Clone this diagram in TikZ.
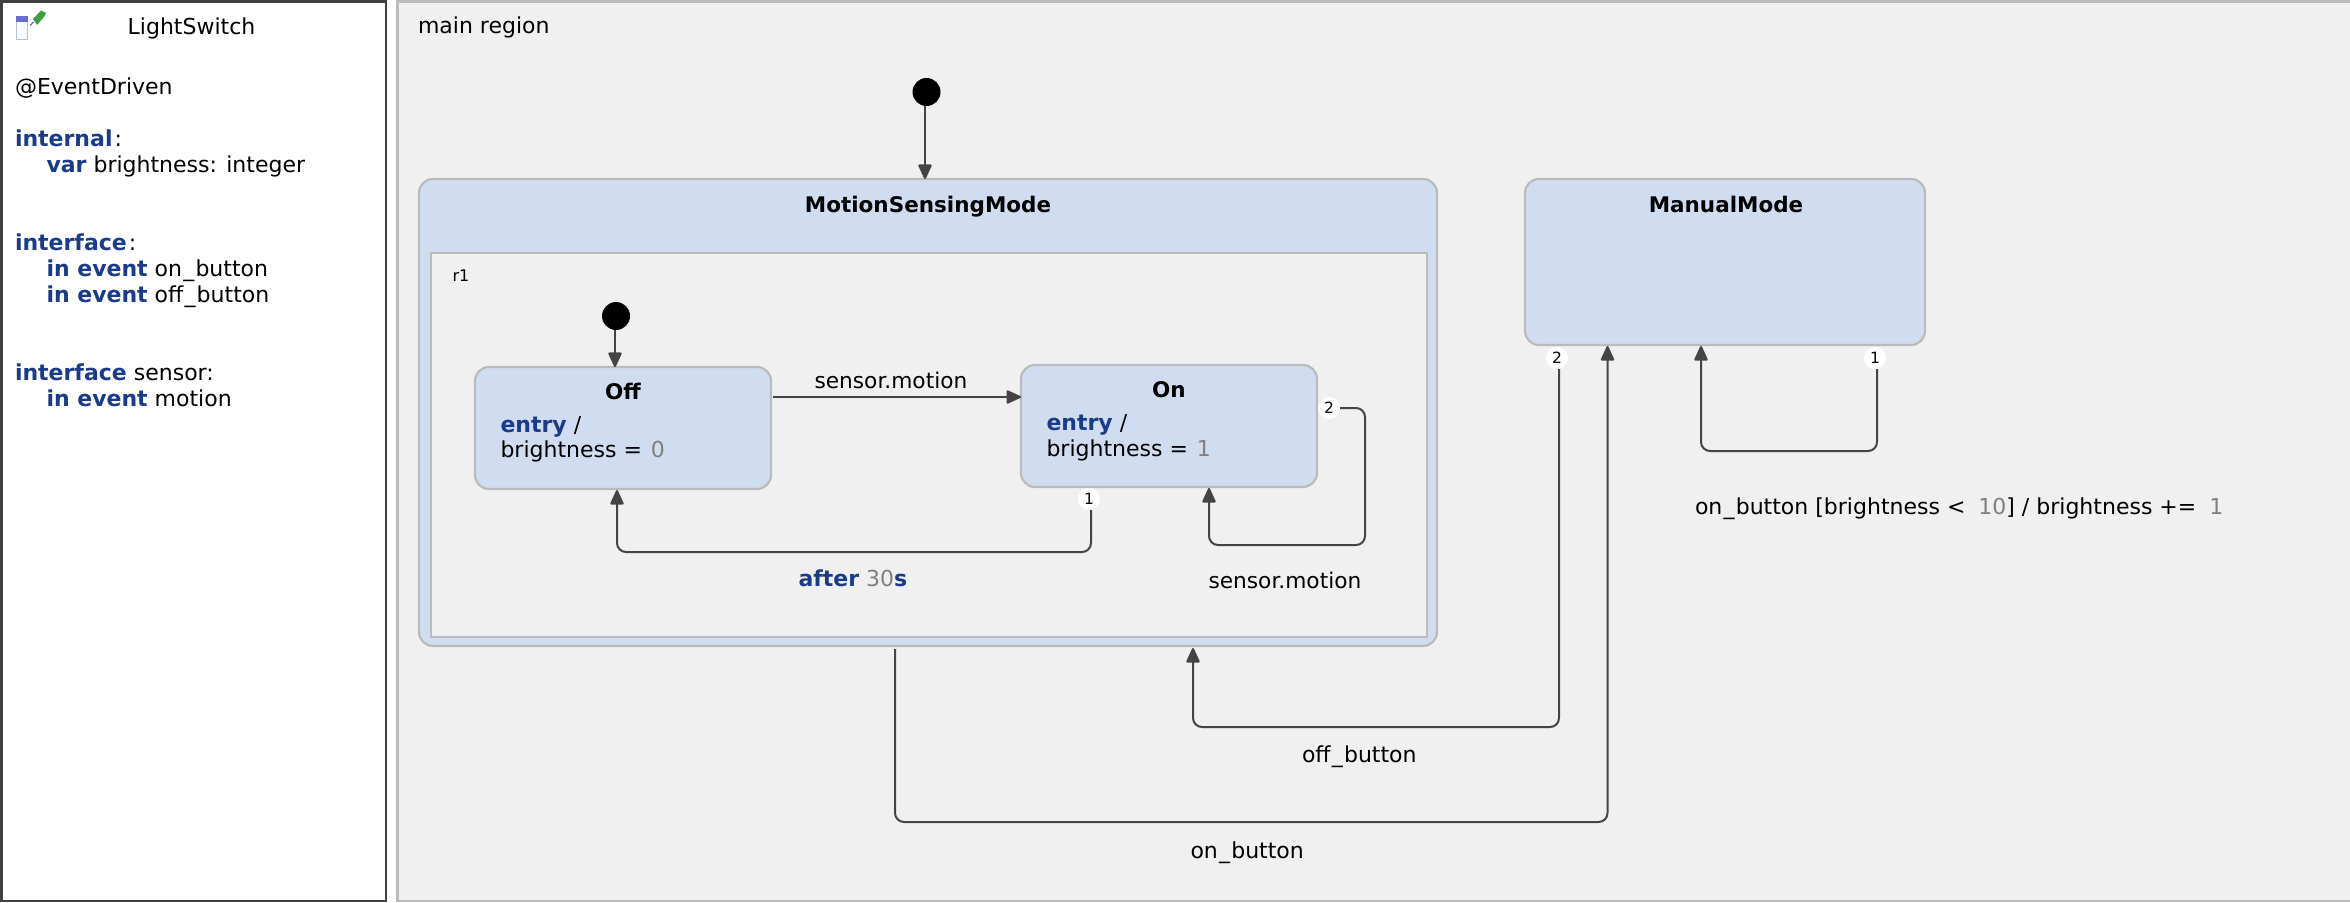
\documentclass[tikz,border=0pt]{standalone}
\usepackage{fontspec}
\setmainfont{DejaVu Sans}
\usetikzlibrary{arrows.meta}
\definecolor{bgc}{HTML}{F0F0F0}
\definecolor{statec}{HTML}{D0DCF0}
\definecolor{edgec}{HTML}{BBBBBB}
\definecolor{connc}{HTML}{444444}
\definecolor{kwc}{HTML}{1A3A8A}
\definecolor{numc}{HTML}{808080}
\newcommand{\kw}[1]{\textbf{\textcolor{kwc}{#1}}}
\newcommand{\nm}[1]{\textcolor{numc}{#1}}
\newcommand{\us}{\kern1.2pt\_\kern1.2pt}
\tikzset{
  txt/.style={inner sep=0pt,outer sep=0pt,anchor=base west,font=\fontsize{22}{26}\selectfont,text=black},
  ttl/.style={inner sep=0pt,outer sep=0pt,anchor=base,font=\fontsize{21.5}{26}\selectfont\bfseries,text=black},
  statebox/.style={draw=edgec,fill=statec,line width=2.2pt,rounded corners=14pt,inner sep=0pt,outer sep=0pt,anchor=north west},
  regionbox/.style={draw=edgec,fill=bgc,line width=2.2pt,inner sep=0pt,outer sep=0pt,anchor=north west},
  initdot/.style={circle,fill=black,draw=none,minimum size=28pt,inner sep=0pt,outer sep=0pt},
  badge/.style={circle,fill=white,draw=none,minimum size=22pt,inner sep=0pt,outer sep=0pt,font=\fontsize{15.5}{17}\selectfont,text=black},
  conn/.style={draw=connc,line width=2pt,rounded corners=9pt,-{Triangle[length=16pt,width=14pt,round=false]}},
}
\begin{document}
\begin{tikzpicture}[x=1pt,y=-1pt]
\useasboundingbox (0,0) rectangle (2350,902);
% panels
\node[draw=black!75,fill=white,line width=2.5pt,inner sep=0pt,outer sep=0pt,anchor=north west,minimum width=384.5pt,minimum height=899.5pt] (panel) at (1.25,1.25) {};
\node[draw=edgec,fill=bgc,line width=2.5pt,inner sep=0pt,outer sep=0pt,anchor=north west,minimum width=1955pt,minimum height=899.5pt] (main) at (397.25,1.25) {};
% icon
\fill[white!85!statec,draw=statec!70!gray,line width=1pt] (16.5,16.5) rectangle (27.5,39.5);
\fill[statec!45!blue!70!gray] (16,16) rectangle (28,22);
\fill[green!50!black!75] (33,19) -- (41,10.5) -- (46,13) -- (44,17) -- (37,25) -- cycle;
\draw[blue!50!gray,line width=1pt] (30,25.5) -- (33.5,22);
% panel text
\node[txt,anchor=base] (tname) at (191.5,34) {LightSwitch};
\node[txt] (t1) at (15,94) {@EventDriven};
\node[txt] (t2) at (15,146) {\kw{internal}\kern2pt:};
\node[txt] (t3) at (46.5,172) {\kw{var} brightness: integer};
\node[txt] (t4) at (15,250) {\kw{interface}\kern2pt:};
\node[txt] (t5) at (46.5,276) {\kw{in event} on\us button};
\node[txt] (t6) at (46.5,302) {\kw{in event} off\us button};
\node[txt] (t7) at (15,380) {\kw{interface} sensor:};
\node[txt] (t8) at (46.5,406) {\kw{in event} motion};
\node[txt] (tmain) at (418,33) {main region};
% states
\node[statebox,minimum width=1018pt,minimum height=467pt] (msm) at (419,179) {};
\node[regionbox,minimum width=996pt,minimum height=384pt] (r1) at (431,253) {};
\node[statebox,minimum width=296pt,minimum height=122pt] (off) at (475,367) {};
\node[statebox,minimum width=296pt,minimum height=122pt] (on) at (1021,365) {};
\node[statebox,minimum width=400pt,minimum height=166pt] (man) at (1525,179) {};
\node[initdot] (i1) at (926.5,92) {};
\node[initdot] (i2) at (616,316) {};
% state text
\node[ttl] (tmsm) at (928,212) {MotionSensingMode};
\node[ttl] (tman) at (1726,212) {ManualMode};
\node[txt,font=\fontsize{16}{18}\selectfont] (tr1) at (452.5,281) {r1};
\node[ttl] (toff) at (623,399) {Off};
\node[txt] (toff1) at (500.5,432) {\kw{entry} /};
\node[txt] (toff2) at (500.5,457) {brightness = \hspace{2pt}\nm{0}};
\node[ttl] (ton) at (1169,397) {On};
\node[txt] (ton1) at (1046.5,430) {\kw{entry} /};
\node[txt] (ton2) at (1046.5,456) {brightness = \hspace{2pt}\nm{1}};
% badges
\node[badge] (bon1) at (1089,499) {1};
\node[badge] (bon2) at (1329,408) {2};
\node[badge] (bman2) at (1557,358) {2};
\node[badge] (bman1) at (1875,358) {1};
% connectors
\draw[conn] ([xshift=-1.5pt]i1.south) -- ([xshift=-1.5pt]i1.south |- msm.north);
\draw[conn] ([xshift=-1pt]i2.south) -- ([xshift=-1pt]i2.south |- off.north);
\coordinate (oo1) at (773,397);
\draw[conn] (oo1) -- (oo1 -| on.west);
\coordinate (a1) at (1091,552);
\coordinate (a2) at (617,490);
\draw[conn] (a1 |- bon1.south) -- (a1) -- (a1 -| a2) -- (a2);
\coordinate (b1) at (1365,545);
\coordinate (b2) at (1209,488);
\draw[conn] (bon2.east) -- (b1 |- bon2.east) -- (b1) -- (b1 -| b2) -- (b2);
\coordinate (c0) at (895,649);
\coordinate (c1) at (1607.5,822);
\coordinate (c2) at (1607.5,346);
\draw[conn] (c0) -- (c0 |- c1) -- (c1) -- (c2);
\coordinate (d1) at (1559,727);
\coordinate (d2) at (1193,648);
\draw[conn] (d1 |- bman2.south) -- (d1) -- (d1 -| d2) -- (d2);
\coordinate (e1) at (1877,451);
\coordinate (e2) at (1701,346);
\draw[conn] (e1 |- bman1.south) -- (e1) -- (e1 -| e2) -- (e2);
% transition labels
\node[txt,font=\fontsize{21.7}{26}\selectfont] (l1) at (814.5,388) {sensor.motion};
\node[txt] (l2) at (798.5,586) {\kw{after} \nm{30}\kw{s}};
\node[txt,font=\fontsize{21.7}{26}\selectfont] (l3) at (1208.5,588) {sensor.motion};
\node[txt] (l4) at (1302,762) {off\us button};
\node[txt] (l5) at (1190.5,858) {on\us button};
\node[txt] (l6) at (1695,514) {on\us button [brightness < \hspace{6pt}\nm{10}] / brightness += \hspace{6pt}\nm{1}};
\end{tikzpicture}
\end{document}
